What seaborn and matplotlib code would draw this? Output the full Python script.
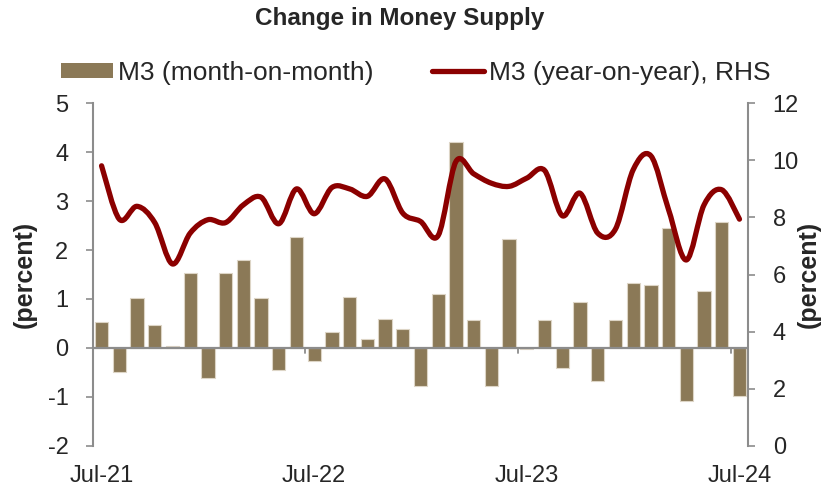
import numpy as np
import pandas as pd
import matplotlib
matplotlib.use("Agg")
import matplotlib.pyplot as plt
from matplotlib.path import Path
from matplotlib.patches import PathPatch, Patch
from matplotlib.lines import Line2D
import seaborn as sns

# ---- data ----
months = pd.date_range("2021-07-01", periods=37, freq="MS").strftime("%b-%y").tolist()
mom = [0.52, -0.50, 1.02, 0.46, 0.03, 1.53, -0.61, 1.54, 1.79, 1.01, -0.46, 2.26,
       -0.27, 0.32, 1.03, 0.19, 0.60, 0.39, -0.78, 1.10, 4.20, 0.56, -0.77, 2.22,
       -0.03, 0.56, -0.42, 0.94, -0.67, 0.56, 1.33, 1.29, 2.45, -1.08, 1.16, 2.58, -0.99]
yoy = [9.81, 7.94, 8.39, 7.82, 6.37, 7.45, 7.92, 7.82, 8.44, 8.71, 7.78, 9.00,
       8.13, 9.05, 9.00, 8.74, 9.35, 8.15, 7.86, 7.37, 9.96, 9.53, 9.20, 9.09,
       9.38, 9.65, 8.06, 8.85, 7.45, 7.59, 9.67, 10.16, 8.27, 6.51, 8.44, 8.97, 7.94]
tick_labels = ["Jul-21", "Jul-22", "Jul-23", "Jul-24"]
left_ticks = [-2, -1, 0, 1, 2, 3, 4, 5]
right_ticks = [0, 2, 4, 6, 8, 10, 12]

df = pd.DataFrame({"month": months, "mom": mom, "yoy": yoy})

BAR = "#8B7957"
LINE = "#8B0000"
GRAY = "#8C8C8C"

sns.set_theme(style="white")
plt.rcParams["font.family"] = ["Liberation Sans", "DejaVu Sans"]

fig = plt.figure(figsize=(8.30, 4.92), dpi=100)
ax = fig.add_axes([0.1117, 0.0941, 0.7899, 0.6959])

sns.barplot(data=df, x="month", y="mom", order=months, ax=ax, color=BAR,
            saturation=1, width=0.75, edgecolor="#ddd5c6", linewidth=0.8)
ax.set_xlim(-0.5, len(months) - 0.5)
ax.set_ylim(-2, 5)
ax.set_yticks(left_ticks)
ax.set_yticklabels([str(t) for t in left_ticks])
ax.axhline(0, color=GRAY, lw=1.6, zorder=3)
# small tick marks on zero line at year boundaries
for b in [11.5, 23.5, 35.5]:
    ax.plot([b, b], [0, -0.1], color=GRAY, lw=1.3, zorder=3)

pos = [months.index(m) for m in ["Jul-21", "Jul-22", "Jul-23", "Jul-24"]]
ax.set_xticks(pos)
ax.set_xticklabels(tick_labels)
ax.set_xlabel("")
ax.set_ylabel("(percent)", fontsize=18, fontweight="bold")
ax.yaxis.set_label_coords(-0.085, 0.5)

for s in ["top", "bottom", "right"]:
    ax.spines[s].set_visible(False)
ax.spines["left"].set_color(GRAY)
ax.spines["left"].set_linewidth(1.5)
ax.tick_params(axis="y", direction="out", length=5, width=1.2, color=GRAY,
               labelsize=17, pad=12.5, left=True)
ax.tick_params(axis="x", length=0, labelsize=17, pad=14)

ax2 = ax.twinx()
ax2.set_ylim(0, 12)
ax2.set_yticks(right_ticks)
ax2.set_yticklabels([str(t) for t in right_ticks])
for s in ["top", "bottom", "left"]:
    ax2.spines[s].set_visible(False)
ax2.spines["right"].set_color(GRAY)
ax2.spines["right"].set_linewidth(1.5)
ax2.tick_params(axis="y", direction="out", length=5, width=1.2, color=GRAY,
                labelsize=17, pad=12.5, right=True)
ax2.set_ylabel("(percent)", fontsize=18, fontweight="bold")
ax2.yaxis.set_label_coords(1.074, 0.5)
ax2.grid(False)
ax.grid(False)

# smoothed (Excel-like Bezier) year-on-year line
xs = np.arange(len(yoy), dtype=float)
ys = np.asarray(yoy, dtype=float)
verts = [(xs[0], ys[0])]
codes = [Path.MOVETO]
n = len(xs)
for i in range(n - 1):
    p0 = np.array([xs[max(i - 1, 0)], ys[max(i - 1, 0)]])
    p1 = np.array([xs[i], ys[i]])
    p2 = np.array([xs[i + 1], ys[i + 1]])
    p3 = np.array([xs[min(i + 2, n - 1)], ys[min(i + 2, n - 1)]])
    c1 = p1 + (p2 - p0) / 6.0
    c2 = p2 - (p3 - p1) / 6.0
    verts += [tuple(c1), tuple(c2), tuple(p2)]
    codes += [Path.CURVE4] * 3
ax2.add_patch(PathPatch(Path(verts, codes), fill=False, edgecolor=LINE,
                        lw=3.8, capstyle="round", joinstyle="round", zorder=4))

fig.suptitle("Change in Money Supply", x=0.482, y=0.962, va="center",
             fontsize=17.5, fontweight="bold")

handles = [Patch(facecolor=BAR, edgecolor="none"),
           Line2D([0], [0], color=LINE, lw=3.8, solid_capstyle="round")]
fig.legend(handles, ["M3 (month-on-month)", "M3 (year-on-year), RHS"],
           loc="center", bbox_to_anchor=(0.501, 0.852), ncol=2, frameon=False,
           fontsize=19, handlelength=1.97, handleheight=0.55, handletextpad=0.19,
           columnspacing=2.23)

fig.savefig("out.png", dpi=100)
